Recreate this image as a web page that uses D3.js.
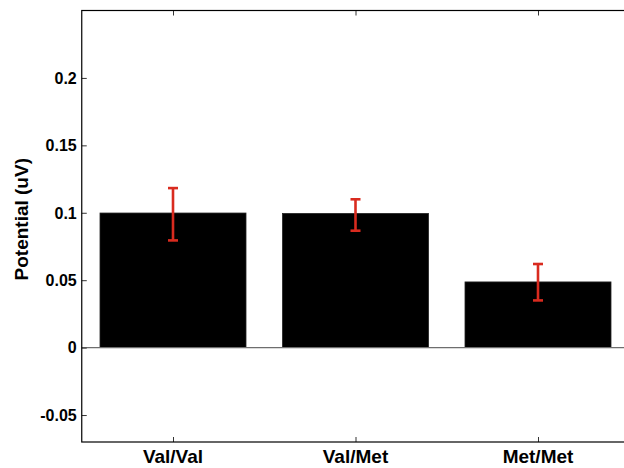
<!DOCTYPE html>
<html>
<head>
<meta charset="utf-8">
<script src="https://cdn.jsdelivr.net/npm/d3@7"></script>
<style>
  body { margin: 0; background: #fff; }
  text { font-family: "Liberation Sans", Arial, sans-serif; font-weight: bold; }
</style>
</head>
<body>
<div id="vis-container"></div>
<script>
// data
let groups = ["Val/Val", "Val/Met", "Met/Met"];
let means = [0.0998, 0.0995, 0.0487];
let errHigh = [0.1183, 0.110, 0.062];
let errLow = [0.0795, 0.0867, 0.035];
let yTicks = [-0.05, 0, 0.05, 0.1, 0.15, 0.2];
let yTickLabels = ["-0.05", "0", "0.05", "0.1", "0.15", "0.2"];

let w = 624;
let h = 468;
let mLeft = 81.75, mRight = 629.25, mTop = 10.5, mBottom = 442;

let svg = d3.select("#vis-container")
  .append("svg")
  .attr("width", w)
  .attr("height", h);

// matlab style: categories at 1..n, limits 0.5..n+0.5
let x = d3.scaleLinear()
  .domain([0.5, groups.length + 0.5])
  .range([mLeft, mRight]);

let y = d3.scaleLinear()
  .domain([-0.07, 0.25])
  .range([mBottom, mTop]);

let barW = 0.8;

// bars
svg.selectAll("rect.bar")
  .data(means)
  .enter()
  .append("rect")
  .attr("class", "bar")
  .attr("x", (d, i) => x(i + 1 - barW / 2))
  .attr("width", (d, i) => x(i + 1 + barW / 2) - x(i + 1 - barW / 2))
  .attr("y", d => y(d))
  .attr("height", d => y(0) - y(d))
  .attr("fill", "#000")
  .attr("stroke", "#222")
  .attr("stroke-width", 0.8);

// baseline
svg.append("line")
  .attr("x1", mLeft).attr("x2", mRight)
  .attr("y1", y(0)).attr("y2", y(0))
  .attr("stroke", "#6e6e6e")
  .attr("stroke-width", 1.2);

// error bars
let red = "#d92b1f";
let capW = 5;
let eb = svg.selectAll("g.err")
  .data(means)
  .enter()
  .append("g")
  .attr("class", "err")
  .attr("stroke", red)
  .attr("stroke-width", 2.6);

eb.append("line")
  .attr("x1", (d, i) => x(i + 1)).attr("x2", (d, i) => x(i + 1))
  .attr("y1", (d, i) => y(errHigh[i])).attr("y2", (d, i) => y(errLow[i]));
eb.append("line")
  .attr("x1", (d, i) => x(i + 1) - capW).attr("x2", (d, i) => x(i + 1) + capW)
  .attr("y1", (d, i) => y(errHigh[i])).attr("y2", (d, i) => y(errHigh[i]));
eb.append("line")
  .attr("x1", (d, i) => x(i + 1) - capW).attr("x2", (d, i) => x(i + 1) + capW)
  .attr("y1", (d, i) => y(errLow[i])).attr("y2", (d, i) => y(errLow[i]));

// axes (ticks pointing inward)
let tickLen = 5;
let xTickVals = groups.map((g, i) => i + 1);

svg.append("g")
  .attr("transform", `translate(${mLeft},0)`)
  .call(d3.axisRight(y).tickValues(yTicks).tickSize(tickLen).tickFormat(""));
svg.append("g")
  .attr("transform", `translate(${mRight},0)`)
  .call(d3.axisLeft(y).tickValues(yTicks).tickSize(tickLen).tickFormat(""));
svg.append("g")
  .attr("transform", `translate(0,${mBottom})`)
  .call(d3.axisTop(x).tickValues(xTickVals).tickSize(tickLen).tickFormat(""));
svg.append("g")
  .attr("transform", `translate(0,${mTop})`)
  .call(d3.axisBottom(x).tickValues(xTickVals).tickSize(tickLen).tickFormat(""));

svg.selectAll(".domain").remove();
svg.selectAll(".tick line").attr("stroke", "#333").attr("stroke-width", 1);

// box
svg.append("rect")
  .attr("x", mLeft).attr("y", mTop)
  .attr("width", mRight - mLeft).attr("height", mBottom - mTop)
  .attr("fill", "none")
  .attr("stroke", "#000")
  .attr("stroke-width", 1.2);

// tick labels
svg.selectAll("text.ylab")
  .data(yTicks)
  .enter()
  .append("text")
  .attr("class", "ylab")
  .attr("x", mLeft - 5)
  .attr("y", d => y(d))
  .attr("dy", "0.36em")
  .attr("text-anchor", "end")
  .attr("font-size", 16)
  .text((d, i) => yTickLabels[i]);

svg.selectAll("text.xlab")
  .data(groups)
  .enter()
  .append("text")
  .attr("class", "xlab")
  .attr("x", (d, i) => x(i + 1))
  .attr("y", mBottom + 21)
  .attr("text-anchor", "middle")
  .attr("font-size", 19)
  .text(d => d);

svg.append("text")
  .attr("transform", `translate(28,${(mTop + mBottom) / 2 - 7}) rotate(-90)`)
  .attr("text-anchor", "middle")
  .attr("font-size", 19)
  .text("Potential (uV)");
</script>
</body>
</html>
